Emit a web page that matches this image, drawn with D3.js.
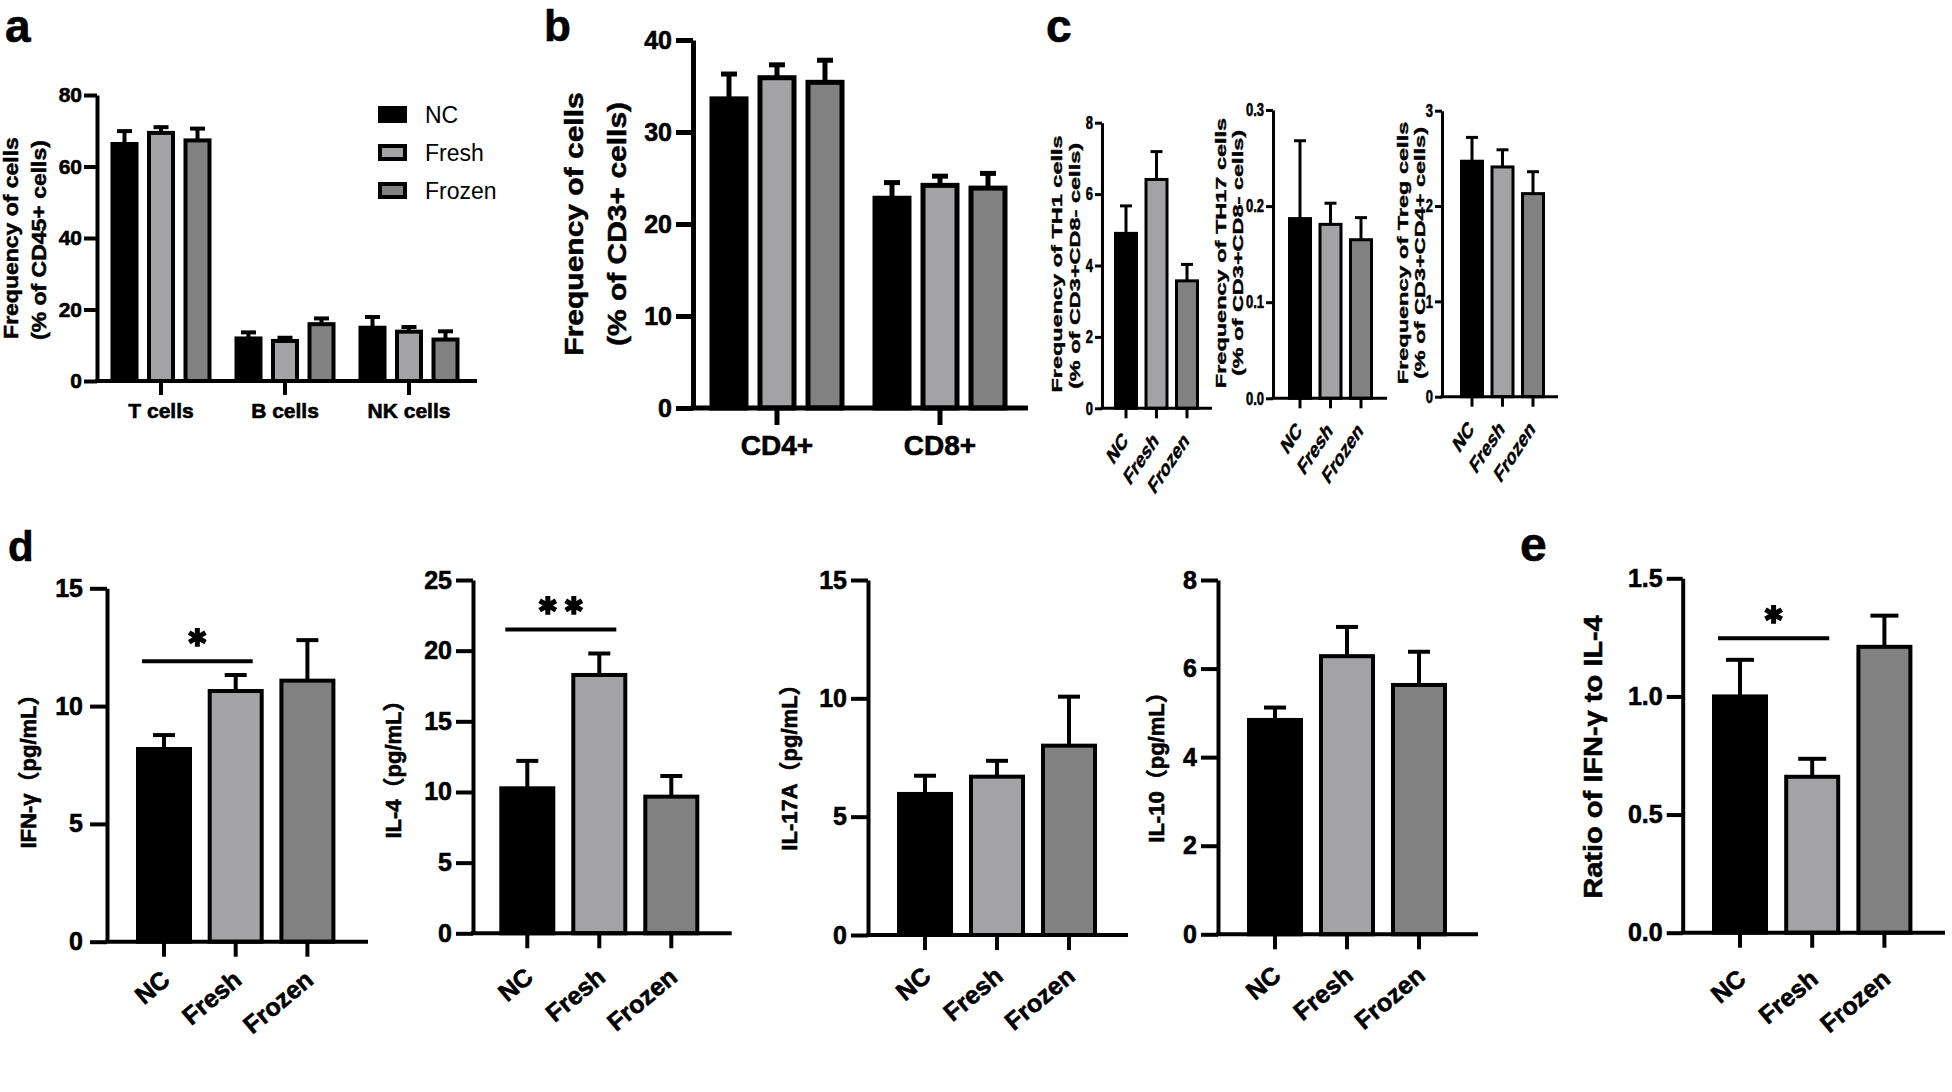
<!DOCTYPE html>
<html>
<head>
<meta charset="utf-8">
<script src="https://cdn.jsdelivr.net/npm/d3@7"></script>
<style>
  body { margin: 0; background: #fff; }
  svg { display: block; }
  text { font-family: "Liberation Sans", Arial, sans-serif; font-weight: bold; fill: #000;
         stroke: #000; stroke-width: 0.6px; }
  text.legend { font-weight: normal; stroke: none; }
</style>
</head>
<body>
<div id="fig"></div>
<script>
const width = 1952, height = 1092;

// ---- data ----
const groups = ["NC", "Fresh", "Frozen"];
const groupColors = ["#000000", "#a3a3a6", "#818181"];

// a: immune cell subsets (% of CD45+)
const cellTypes = ["T cells", "B cells", "NK  cells"];
const aNC = [66.3, 11.9, 14.9], aNCErr = [3.6, 1.7, 3.0];
const aFresh = [69.4, 11.2, 13.8], aFreshErr = [1.6, 0.9, 1.3];
const aFrozen = [67.3, 15.9, 11.6], aFrozenErr = [3.3, 1.6, 2.3];

// b: T cell subsets (% of CD3+)
const tSubsets = ["CD4+", "CD8+"];
const bNC = [33.6, 22.8], bNCErr = [2.7, 1.7];
const bFresh = [35.9, 24.2], bFreshErr = [1.4, 1.0];
const bFrozen = [35.4, 23.9], bFrozenErr = [2.4, 1.6];

// c: helper subsets
const th1 = [4.90, 6.41, 3.57], th1Err = [0.77, 0.78, 0.46];
const th17 = [0.187, 0.181, 0.165], th17Err = [0.081, 0.022, 0.023];
const treg = [2.47, 2.41, 2.13], tregErr = [0.25, 0.18, 0.23];

// d: cytokines (pg/mL)
const ifng = [8.18, 10.64, 11.08], ifngErr = [0.59, 0.68, 1.72];
const il4 = [10.26, 18.28, 9.67], il4Err = [1.94, 1.52, 1.46];
const il17a = [5.96, 6.69, 8.00], il17aErr = [0.77, 0.67, 2.07];
const il10 = [4.84, 6.28, 5.63], il10Err = [0.28, 0.66, 0.75];

// e: IFN-γ / IL-4 ratio
const ratio = [1.00, 0.66, 1.21], ratioErr = [0.155, 0.076, 0.132];

// significance brackets: [from, to, level, stars]
const ifngSig = ["NC", "Fresh", 11.9, "*"];
const il4Sig = ["NC", "Fresh", 21.5, "**"];
const ratioSig = ["NC", "Fresh", 1.246, "*"];

// ---- layout ----
const svg = d3.select("#fig").append("svg")
    .attr("width", width)
    .attr("height", height)
    .attr("viewBox", "0 0 " + width + " " + height);

function yAxis(L, y) {
    let g = svg.append("g")
        .attr("transform", "translate(" + L.ax + ",0)")
        .call(d3.axisLeft(y)
            .tickValues(L.ticks)
            .tickSize(L.tick)
            .tickSizeOuter(0)
            .tickFormat(d3.format(L.fmt || "d")));
    g.attr("font-family", null).attr("font-size", null);
    g.selectAll("path,line").attr("stroke", "#000").attr("stroke-width", L.sw);
    g.selectAll("text")
        .attr("font-size", L.tickFont)
        .attr("x", 0)
        .attr("transform", "translate(" + (-(L.tick + L.pad)) + ",0) scale(" + (L.sx || 1) + ",1)");
}

function xAxis(L, x) {
    svg.append("line")
        .attr("x1", L.ax - L.sw / 2).attr("x2", L.xend)
        .attr("y1", L.bot).attr("y2", L.bot)
        .attr("stroke", "#000").attr("stroke-width", L.sw);
    let g = svg.append("g")
        .attr("transform", "translate(0," + L.bot + ")")
        .call(d3.axisBottom(x).tickSize(L.xtick).tickSizeOuter(0));
    g.attr("font-family", null).attr("font-size", null);
    g.select(".domain").remove();
    g.selectAll("line").attr("stroke", "#000").attr("stroke-width", L.sw);
    let t = g.selectAll("text").attr("font-size", L.xFont);
    if (L.rot) {
        t.attr("x", 0).attr("y", 0).attr("dy", "0.35em")
            .attr("text-anchor", "end")
            .attr("transform", "translate(" + L.lx + "," + L.ly + ") scale(" + (L.xsx || 1) + ",1) rotate(" + L.rot + ")");
    } else {
        t.attr("y", L.ly).attr("dy", 0);
    }
}

function yTitle(lines, font, sx) {
    lines.forEach(function (l) {
        let t = svg.append("text")
            .attr("font-size", font)
            .attr("text-anchor", "middle")
            .attr("dy", "0.35em")
            .attr("transform", "translate(" + l[1] + "," + l[2] + ") scale(" + sx + ",1) rotate(-90)");
        // full-width brackets come from the CJK font
        l[0].split(/([（）])/).filter(s => s.length).forEach(function (part) {
            let sp = t.append("tspan").text(part);
            if (part === "（" || part === "）") sp.style("font-family", '"Noto Sans CJK SC"');
        });
    });
}

function errorBar(cx, y0, y1, cap, sw) {
    svg.append("line").attr("x1", cx).attr("x2", cx).attr("y1", y0).attr("y2", y1)
        .attr("stroke", "#000").attr("stroke-width", sw);
    svg.append("line").attr("x1", cx - cap / 2).attr("x2", cx + cap / 2).attr("y1", y1).attr("y2", y1)
        .attr("stroke", "#000").attr("stroke-width", sw);
}

function drawBar(x, w, yTop, L, color) {
    svg.append("rect")
        .attr("x", x).attr("width", w)
        .attr("y", yTop).attr("height", L.bot - yTop)
        .attr("fill", color)
        .attr("stroke", "#000").attr("stroke-width", L.sw);
}

// grouped chart (panels a, b)
function grouped(L, cats, means, errs) {
    let x0 = d3.scaleBand().domain(cats)
        .range([L.c0 - L.step / 2, L.c0 + (cats.length - 0.5) * L.step]);
    let p = 1 - L.bw / L.inStep;
    let x1 = d3.scaleBand().domain(groups)
        .range([-1.5 * L.inStep, 1.5 * L.inStep])
        .paddingInner(p).paddingOuter(p / 2);
    let y = d3.scaleLinear().domain([0, L.max]).range([L.bot, L.top]);

    cats.forEach(function (c, ci) {
        let gc = x0(c) + x0.bandwidth() / 2;
        groups.forEach(function (s, si) {
            let bx = gc + x1(s);
            drawBar(bx, x1.bandwidth(), y(means[si][ci]), L, groupColors[si]);
            errorBar(bx + x1.bandwidth() / 2, y(means[si][ci]), y(means[si][ci] + errs[si][ci]), L.cap, L.sw);
        });
    });
    yAxis(L, y);
    xAxis(L, x0);
}

// simple 3-bar chart (panels c, d, e)
function simple(L, means, errs, sig) {
    let p = 1 - L.bw / L.step;
    let x = d3.scaleBand().domain(groups)
        .range([L.c0 - L.step / 2, L.c0 + 2.5 * L.step])
        .paddingInner(p).paddingOuter(p / 2);
    let y = d3.scaleLinear().domain([0, L.max]).range([L.bot, L.top]);

    groups.forEach(function (s, i) {
        drawBar(x(s), x.bandwidth(), y(means[i]), L, groupColors[i]);
        errorBar(x(s) + x.bandwidth() / 2, y(means[i]), y(means[i] + errs[i]), L.cap, L.sw);
    });
    yAxis(L, y);
    xAxis(L, x);

    if (sig) {
        let x1 = x(sig[0]) + 4, x2 = x(sig[1]) + x.bandwidth() - 9, ly = y(sig[2]);
        svg.append("line").attr("x1", x1).attr("x2", x2).attr("y1", ly).attr("y2", ly)
            .attr("stroke", "#000").attr("stroke-width", 4);
        let n = sig[3].length, mid = (x1 + x2) / 2;
        for (let k = 0; k < n; k++) {
            svg.append("path")
                .attr("d", d3.symbol(d3.symbolAsterisk, 250)())
                .attr("transform", "translate(" + (mid + (k - (n - 1) / 2) * 26) + "," + (ly - 24) + ")")
                .attr("fill", "none").attr("stroke", "#000").attr("stroke-width", 5);
        }
    }
}

// ---- panel a ----
grouped({ax: 97, top: 95, bot: 381, xend: 477, max: 80, ticks: [0, 20, 40, 60, 80],
          tick: 13, pad: 2, tickFont: 21, sw: 4, xtick: 14, c0: 161, step: 124,
          inStep: 36.5, bw: 24, cap: 15, xFont: 21, ly: 37},
    cellTypes, [aNC, aFresh, aFrozen], [aNCErr, aFreshErr, aFrozenErr]);
yTitle([["Frequency of cells", 11, 238], ["(% of CD45+ cells)", 39, 240]], 23, 0.85);

// legend
groups.forEach(function (s, i) {
    svg.append("rect")
        .attr("x", 380).attr("y", 108 + i * 38).attr("width", 25).attr("height", 13)
        .attr("fill", groupColors[i]).attr("stroke", "#000").attr("stroke-width", 4);
    svg.append("text").text(s)
        .attr("class", "legend")
        .attr("x", 425).attr("y", 115 + i * 38).attr("dy", "0.36em")
        .attr("font-size", 23);
});

// ---- panel b ----
grouped({ax: 693, top: 40, bot: 408, xend: 1028, max: 40, ticks: [0, 10, 20, 30, 40],
          tick: 17, pad: 4, tickFont: 25, sw: 5, xtick: 17, c0: 777, step: 163,
          inStep: 48, bw: 34, cap: 16, xFont: 28, ly: 47},
    tSubsets, [bNC, bFresh, bFrozen], [bNCErr, bFreshErr, bFrozenErr]);
yTitle([["Frequency of cells", 574, 224], ["(% of CD3+ cells)", 617, 224]], 30, 0.85);

// ---- panel c ----
const cBase = {tick: 7, pad: 2, tickFont: 18, sx: 0.72, sw: 3, xtick: 10, step: 30.5,
               bw: 21, cap: 12, xFont: 23, xsx: 0.66, rot: -45, lx: -1, ly: 28};
simple(Object.assign({}, cBase, {ax: 1102, top: 122.7, bot: 408.3, xend: 1212, max: 8,
          ticks: [0, 2, 4, 6, 8], c0: 1126}), th1, th1Err);
yTitle([["Frequency of TH1 cells", 1057, 264], ["(% of CD3+CD8- cells)", 1075, 266]], 23.5, 0.62);
simple(Object.assign({}, cBase, {ax: 1273, top: 110, bot: 398.3, xend: 1387, max: 0.3,
          ticks: [0, 0.1, 0.2, 0.3], fmt: ".1f", c0: 1300}), th17, th17Err);
yTitle([["Frequency of TH17 cells", 1221, 253], ["(% of CD3+CD8- cells)", 1238, 253]], 23.5, 0.62);
simple(Object.assign({}, cBase, {ax: 1442, top: 110.7, bot: 396.7, xend: 1558, max: 3,
          ticks: [0, 1, 2, 3], c0: 1472}), treg, tregErr);
yTitle([["Frequency of Treg cells", 1403, 253], ["(% of CD3+CD4+ cells)", 1420, 253]], 23.5, 0.62);

// ---- panel d ----
const dBase = {tick: 17, pad: 4, tickFont: 25, sw: 4, xtick: 15, step: 72, bw: 52,
               cap: 22, xFont: 25, rot: -40, lx: 2, ly: 37};
simple(Object.assign({}, dBase, {ax: 107, top: 588.3, bot: 941.7, xend: 368, max: 15,
          ticks: [0, 5, 10, 15], c0: 164, step: 71.7, pad: 7, ly: 34}), ifng, ifngErr, ifngSig);
yTitle([["IFN-γ（pg/mL）", 28, 766]], 22, 1);
simple(Object.assign({}, dBase, {ax: 473, top: 580, bot: 933.3, xend: 731.7, max: 25,
          ticks: [0, 5, 10, 15, 20, 25], c0: 527.3, ly: 39.6}), il4, il4Err, il4Sig);
yTitle([["IL-4（pg/mL）", 393, 764]], 22, 1);
simple(Object.assign({}, dBase, {ax: 868, top: 580, bot: 935, xend: 1128, max: 15,
          ticks: [0, 5, 10, 15], c0: 925}), il17a, il17aErr);
yTitle([["IL-17A（pg/mL）", 789, 762]], 22, 1);
simple(Object.assign({}, dBase, {ax: 1218, top: 580, bot: 934.3, xend: 1478, max: 8,
          ticks: [0, 2, 4, 6, 8], c0: 1275}), il10, il10Err);
yTitle([["IL-10（pg/mL）", 1156, 762]], 22, 1);

// ---- panel e ----
simple(Object.assign({}, dBase, {ax: 1682.7, top: 578.3, bot: 932.7, xend: 1945, max: 1.5,
          ticks: [0, 0.5, 1, 1.5], fmt: ".1f", tick: 16, c0: 1740, step: 72.2, cap: 28, ly: 42}),
    ratio, ratioErr, ratioSig);
yTitle([["Ratio of IFN-γ to IL-4", 1593, 757]], 29, 0.87);

// ---- panel letters ----
[["a", 5, 42, 46], ["b", 544, 41, 44], ["c", 1046, 42, 46], ["d", 8, 561, 42], ["e", 1520, 561, 48]]
    .forEach(function (p) {
        svg.append("text").text(p[0]).attr("x", p[1]).attr("y", p[2]).attr("font-size", p[3]);
    });
</script>
</body>
</html>
